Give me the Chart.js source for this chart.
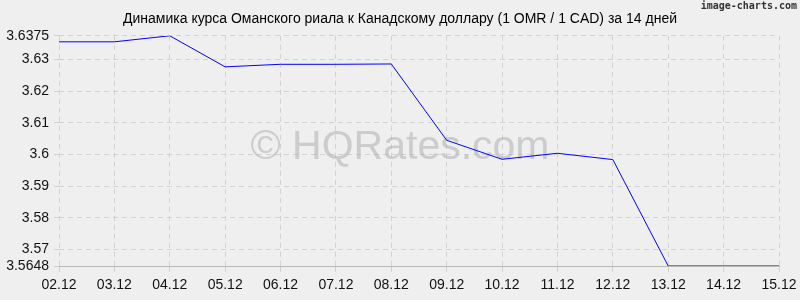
<!DOCTYPE html>
<html>
<head>
<meta charset="utf-8">
<script src="https://cdn.jsdelivr.net/npm/chart.js@4/dist/chart.umd.min.js"></script>
<style>
  html, body { margin: 0; padding: 0; background: #efefef; }
  canvas { display: block; }
</style>
</head>
<body>
<canvas id="rateChart" width="800" height="300"></canvas>
<script>
const days = ['02.12', '03.12', '04.12', '05.12', '06.12', '07.12', '08.12',
  '09.12', '10.12', '11.12', '12.12', '13.12', '14.12', '15.12'];
const rates = [3.6356, 3.6356, 3.6375, 3.6277, 3.6285, 3.6285, 3.6286,
  3.6045, 3.5985, 3.6004, 3.5984, 3.5648, 3.5648, 3.5648];
const yTicks = [3.5648, 3.57, 3.58, 3.59, 3.6, 3.61, 3.62, 3.63, 3.6375];

const titleText = 'Динамика курса Оманского риала к Канадскому доллару (1 OMR / 1 CAD) за 14 дней';
const fontFamily = '"Liberation Sans", Arial, sans-serif';

// background, watermark and the small credit in the corner
const decor = {
  id: 'decor',
  beforeDraw(chart) {
    const c = chart.ctx;
    c.save();
    c.fillStyle = '#efefef';
    c.fillRect(0, 0, chart.width, chart.height);
    c.restore();
  },
  beforeDatasetsDraw(chart) {
    const c = chart.ctx;
    c.save();
    c.fillStyle = 'rgba(170,170,170,0.5)';
    c.font = '41px ' + fontFamily;
    c.textAlign = 'center';
    c.textBaseline = 'middle';
    c.fillText('© HQRates.com', 400, 148);
    c.fillStyle = '#333';
    c.font = 'bold 10px "DejaVu Sans Mono", monospace';
    c.textAlign = 'right';
    c.textBaseline = 'top';
    c.fillText('image-charts.com', 797, 1);
    c.restore();
  }
};

new Chart(document.getElementById('rateChart'), {
  type: 'line',
  data: {
    labels: days,
    datasets: [{
      data: rates,
      borderColor: '#0000ff',
      borderWidth: 1,
      pointRadius: 0,
      tension: 0,
      fill: false
    }]
  },
  options: {
    responsive: false,
    animation: false,
    layout: { padding: 0 },
    plugins: {
      legend: { display: false },
      tooltip: { enabled: false },
      title: {
        display: true,
        text: titleText,
        color: '#000',
        font: { family: fontFamily, size: 14, weight: 'normal' },
        padding: { top: 11, bottom: 8 }
      }
    },
    scales: {
      x: {
        offset: false,
        grid: { color: '#d2d2d2', tickLength: 6 },
        border: { display: true, color: '#b8b8b8', dash: [5, 4] },
        ticks: { color: '#111', font: { family: fontFamily, size: 14 }, padding: 5, maxRotation: 0, autoSkip: false },
        afterFit(scale) {
          scale.height = 34;
          scale.paddingRight = 21;
        }
      },
      y: {
        min: 3.5648,
        max: 3.6375,
        grid: { color: '#d2d2d2', tickLength: 5 },
        border: { display: false, dash: [5, 4] },
        ticks: {
          color: '#111',
          font: { family: fontFamily, size: 14 },
          padding: 5,
          callback: v => String(Number(v.toFixed(4)))
        },
        afterBuildTicks(scale) { scale.ticks = yTicks.map(v => ({ value: v })); },
        afterFit(scale) { scale.width = 59; }
      }
    }
  },
  plugins: [decor]
});
</script>
</body>
</html>
